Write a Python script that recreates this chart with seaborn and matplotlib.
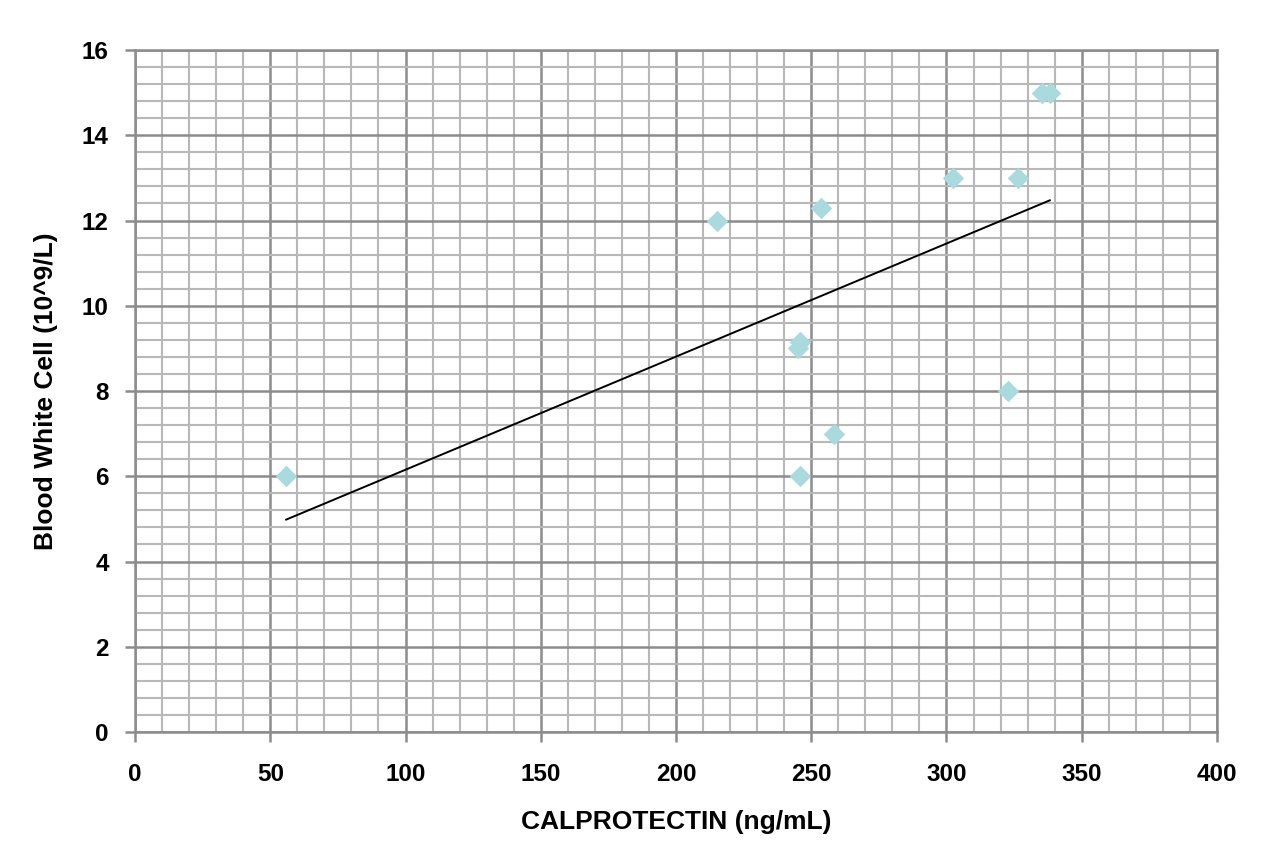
"""Calprotectin vs blood white cell count scatter with linear trend."""

import matplotlib
matplotlib.use("Agg")
import matplotlib.pyplot as plt
import pandas as pd
import seaborn as sns
from matplotlib.ticker import MultipleLocator

# values
calprotectin = [55.8, 215.0, 253.6, 245.0, 246.0, 245.8, 258.4, 302.4, 326.4, 322.7, 335.5, 338.3]
white_cells = [6.0, 12.0, 12.3, 9.0, 9.15, 6.0, 7.0, 13.0, 13.0, 8.0, 15.0, 15.0]

X_LABEL = "CALPROTECTIN (ng/mL)"
Y_LABEL = "Blood White Cell (10^9/L)"

MARKER_COLOR = "#a9dadd"
MAJOR_GRID = "#8c8c8c"
MINOR_GRID = "#b8b8b8"


def main() -> None:
    sns.set_theme(style="white")
    plt.rcParams["font.family"] = ["Liberation Sans", "DejaVu Sans"]
    plt.rcParams["text.color"] = "black"
    plt.rcParams["axes.labelcolor"] = "black"
    plt.rcParams["xtick.color"] = "black"
    plt.rcParams["ytick.color"] = "black"

    df = pd.DataFrame({"calprotectin": calprotectin, "wbc": white_cells})

    fig = plt.figure(figsize=(12.86, 8.51), dpi=100)
    ax = fig.add_axes([0.105, 0.1398, 0.8413, 0.8014])

    sns.scatterplot(
        data=df, x="calprotectin", y="wbc", marker="D", s=120,
        color=MARKER_COLOR, linewidth=0, ax=ax, zorder=3,
    )
    sns.regplot(
        data=df, x="calprotectin", y="wbc", scatter=False, ci=None,
        color="black", line_kws={"linewidth": 1.4}, ax=ax,
    )

    ax.set_xlim(0, 400)
    ax.set_ylim(0, 16)
    ax.xaxis.set_major_locator(MultipleLocator(50))
    ax.xaxis.set_minor_locator(MultipleLocator(10))
    ax.yaxis.set_major_locator(MultipleLocator(2))
    ax.yaxis.set_minor_locator(MultipleLocator(0.4))

    ax.grid(which="major", color=MAJOR_GRID, linewidth=1.8)
    ax.grid(which="minor", color=MINOR_GRID, linewidth=1.5)
    ax.set_axisbelow(True)

    for spine in ax.spines.values():
        spine.set_color(MAJOR_GRID)
        spine.set_linewidth(1.8)

    ax.tick_params(which="major", direction="out", length=7, width=1.8,
                   color=MAJOR_GRID, labelsize=17.5, bottom=True, left=True)
    ax.tick_params(axis="x", which="major", pad=15)
    ax.tick_params(axis="y", which="major", pad=12)
    ax.tick_params(which="minor", length=0)
    for lab in ax.get_xticklabels() + ax.get_yticklabels():
        lab.set_fontweight("bold")

    ax.set_xlabel(X_LABEL, fontsize=19, fontweight="bold")
    ax.set_ylabel(Y_LABEL, fontsize=19, fontweight="bold")
    ax.xaxis.set_label_coords(0.5, -0.115)
    ax.yaxis.set_label_coords(-0.071, 0.5)

    fig.savefig("out.png", dpi=100)
    plt.close(fig)


if __name__ == "__main__":
    main()
